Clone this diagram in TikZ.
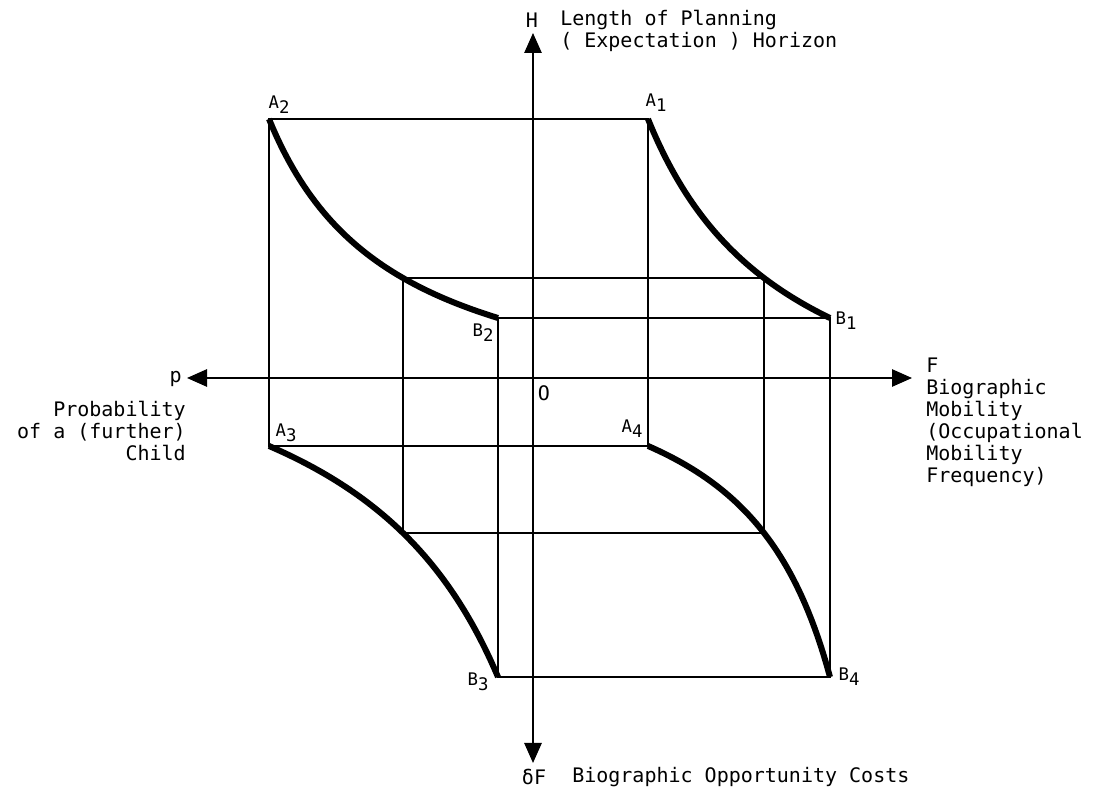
\documentclass[tikz,border=0pt]{standalone}
\usepackage{fontspec}
\setmonofont{DejaVu Sans Mono}
\usetikzlibrary{arrows.meta}
\newcommand\lowidx[1]{\raisebox{-0.55ex}{#1}}
\begin{document}
\begin{tikzpicture}[x=0.75pt,y=0.75pt,
    frame/.style={line width=1.3pt},
    curve/.style={line width=4.5pt},
    axis/.style={line width=1.3pt,{Triangle[length=15pt,width=13pt]}-{Triangle[length=15pt,width=13pt]}},
    lbl/.style={font=\ttfamily\fontsize{13}{15}\selectfont,inner sep=0pt},
    txt/.style={font=\ttfamily\fontsize{15}{16.5}\selectfont,inner sep=0pt}]
    \useasboundingbox (0,0) rectangle (1093,795);
    % corners
    \coordinate (A1) at (648,676);
    \coordinate (A2) at (269,676);
    \coordinate (A3) at (269,349);
    \coordinate (A4) at (648,349);
    \coordinate (B1) at (830,477);
    \coordinate (B2) at (498,477);
    \coordinate (B3) at (498,118);
    \coordinate (B4) at (830,118);
    \coordinate (M1) at (764,517);
    \coordinate (M2) at (403,517);
    \coordinate (M3) at (403,262);
    \coordinate (M4) at (764,262);
    % axis ends
    \coordinate (Htip) at (533,762);
    \coordinate (dFtip) at (533,32);
    \coordinate (ptip) at (187,417);
    \coordinate (Ftip) at (912,417);
    % axes
    \draw[axis] (Htip) -- (dFtip);
    \draw[axis] (ptip) -- (Ftip);
    % rectangles
    \draw[frame] (A2) -- (A1) -- (A4) -- (A3) -- cycle;
    \draw[frame] (B2) -- (B1) -- (B4) -- (B3) -- cycle;
    \draw[frame] (M2) -- (M1) -- (M4) -- (M3) -- cycle;
    % curves (hyperbola arcs through the corners)
    \draw[curve] plot[domain=269:498,samples=60] (\x,{367.6+388.27*(100/(\x-143.1))});
    \draw[curve] plot[domain=648:830,samples=60] (\x,{319.2+514.84*(100/(\x-503.7))});
    \draw[curve] plot[domain=269:498,samples=60] (\x,{522.1+693.39*(100/(\x-669.6))});
    \draw[curve] plot[domain=648:830,samples=60] (\x,{470.0+335.47*(100/(\x-925.3))});
    % corner labels
    \node[lbl] (lA1) at (656,692) {A\lowidx{1}};
    \node[lbl] (lA2) at (279,690) {A\lowidx{2}};
    \node[lbl] (lA3) at (286,362) {A\lowidx{3}};
    \node[lbl] (lA4) at (632,366) {A\lowidx{4}};
    \node[lbl] (lB1) at (846,474) {B\lowidx{1}};
    \node[lbl] (lB2) at (483,462) {B\lowidx{2}};
    \node[lbl] (lB3) at (478,113) {B\lowidx{3}};
    \node[lbl] (lB4) at (849,118) {B\lowidx{4}};
    \node[txt] (O) at (544,402) {O};
    % axis labels
    \node[txt] (H) at (532,775) {H};
    \node[txt,anchor=west,align=left] (Htext) at (560,764) {Length of Planning\\( Expectation ) Horizon};
    \node[txt,anchor=east] (p) at (182,416) {p};
    \node[txt,anchor=east,align=right] (ptext) at (186,364) {Probability\\of a (further)\\Child};
    \node[txt,anchor=west,align=left] (Ftext) at (926,373) {F\\Biographic\\Mobility\\(Occupational\\Mobility\\Frequency)};
    \node[txt] (dF) at (534,18) {δF};
    \node[txt,anchor=west] (dFtext) at (572,18) {Biographic Opportunity Costs};
\end{tikzpicture}
\end{document}
